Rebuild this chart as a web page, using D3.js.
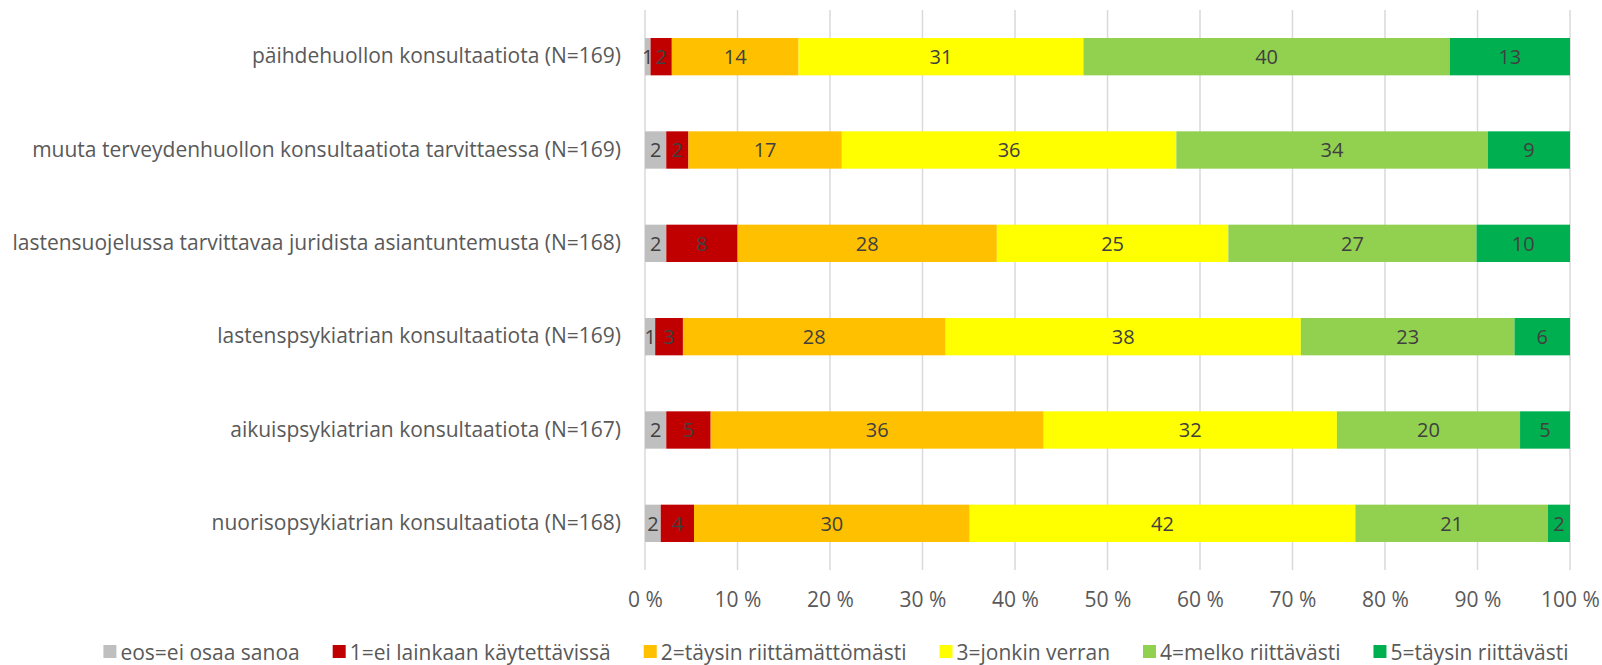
<!DOCTYPE html>
<html>
<head>
<meta charset="utf-8">
<script src="https://cdn.jsdelivr.net/npm/d3@7"></script>
<style>
  body { margin: 0; background: #fff; }
  text { font-family: "Open Sans", sans-serif; }
</style>
</head>
<body>
<div id="chart"></div>
<script>
// categories, top to bottom
var categories = [
    "päihdehuollon konsultaatiota (N=169)",
    "muuta terveydenhuollon konsultaatiota tarvittaessa (N=169)",
    "lastensuojelussa tarvittavaa juridista asiantuntemusta (N=168)",
    "lastenspsykiatrian konsultaatiota (N=169)",
    "aikuispsykiatrian konsultaatiota (N=167)",
    "nuorisopsykiatrian konsultaatiota (N=168)"
];

// series names (legend) and colours
var seriesNames = ["eos=ei osaa sanoa", "1=ei lainkaan käytettävissä", "2=täysin riittämättömästi",
    "3=jonkin verran", "4=melko riittävästi", "5=täysin riittävästi"];
var seriesColors = ["#BFBFBF", "#C00000", "#FFC000", "#FFFF00", "#92D050", "#00B050"];

// percentage values per series (one value per category)
var eos = [0.6, 2.3, 2.3, 1.1, 2.3, 1.7];
var v1 = [2.3, 2.4, 7.7, 3.0, 4.8, 3.6];
var v2 = [13.7, 16.6, 28.0, 28.4, 36.0, 29.8];
var v3 = [30.8, 36.2, 25.0, 38.4, 31.7, 41.7];
var v4 = [39.6, 33.7, 26.8, 23.1, 19.8, 20.8];
var v5 = [13.0, 8.9, 10.1, 6.0, 5.4, 2.4];

var tickValues = [0, 10, 20, 30, 40, 50, 60, 70, 80, 90, 100];

// set the dimensions and margins
var W = 1602, H = 665;
var margin = { top: 10, right: 32, bottom: 95, left: 645 },
    width = W - margin.left - margin.right,
    height = H - margin.top - margin.bottom;
var fontSize = "21px";

var svg = d3.select("#chart")
    .append("svg")
    .attr("width", W)
    .attr("height", H);

var g = svg.append("g")
    .attr("transform", "translate(" + margin.left + "," + margin.top + ")");

// build rows for stacking
var seriesValues = [eos, v1, v2, v3, v4, v5];
var rows = categories.map(function (c, i) {
    var r = { cat: c };
    seriesNames.forEach(function (s, j) { r[s] = seriesValues[j][i]; });
    return r;
});
var stacked = d3.stack().keys(seriesNames).offset(d3.stackOffsetExpand)(rows);

var x = d3.scaleLinear().domain([0, 1]).range([0, width]);
var y = d3.scaleBand().domain(categories).range([0, height])
    .paddingInner(0.6).paddingOuter(0.3);

// gridlines
g.selectAll(".grid")
    .data(tickValues)
    .enter().append("line")
    .attr("x1", function (d) { return x(d / 100); })
    .attr("x2", function (d) { return x(d / 100); })
    .attr("y1", 0)
    .attr("y2", height)
    .attr("stroke", "#d9d9d9")
    .attr("stroke-width", 1.5);

// bars
var layer = g.selectAll(".layer")
    .data(stacked)
    .enter().append("g")
    .attr("fill", function (d, i) { return seriesColors[i]; });

layer.selectAll("rect")
    .data(function (d) { return d; })
    .enter().append("rect")
    .attr("x", function (d) { return x(d[0]); })
    .attr("y", function (d) { return y(d.data.cat); })
    .attr("width", function (d) { return x(d[1]) - x(d[0]); })
    .attr("height", y.bandwidth());

// data labels
layer.each(function (s) {
    d3.select(this).selectAll("text")
        .data(s)
        .enter().append("text")
        .attr("x", function (d) { return (x(d[0]) + x(d[1])) / 2; })
        .attr("y", function (d) { return y(d.data.cat) + y.bandwidth() / 2; })
        .attr("dy", "0.36em")
        .attr("text-anchor", "middle")
        .attr("fill", "#404040")
        .style("font-size", "20px")
        .text(function (d) { return Math.round(d.data[s.key]); });
});

// y labels
var yAxis = g.append("g")
    .call(d3.axisLeft(y).tickSize(0).tickPadding(24));
yAxis.select(".domain").remove();
yAxis.selectAll("text")
    .attr("fill", "#595959")
    .style("font-size", fontSize)
    .style("font-family", "'Open Sans', sans-serif");

// x labels
var xAxis = g.append("g")
    .attr("transform", "translate(0," + height + ")")
    .call(d3.axisBottom(x).tickValues(tickValues.map(function (d) { return d / 100; }))
        .tickSize(0).tickPadding(22)
        .tickFormat(function (d) { return Math.round(d * 100) + " %"; }));
xAxis.select(".domain").remove();
xAxis.selectAll("text")
    .attr("fill", "#595959")
    .style("font-size", fontSize)
    .style("font-family", "'Open Sans', sans-serif");

// legend
var legend = svg.append("g");
var lx = 0, gap = 33;
seriesNames.forEach(function (s, i) {
    var item = legend.append("g").attr("transform", "translate(" + lx + ",0)");
    item.append("rect")
        .attr("x", 0).attr("y", -7)
        .attr("width", 13).attr("height", 13)
        .attr("fill", seriesColors[i]);
    var t = item.append("text")
        .attr("x", 17)
        .attr("dy", "0.36em")
        .attr("fill", "#595959")
        .style("font-size", fontSize)
        .text(s);
    lx += 17 + t.node().getComputedTextLength() + gap;
});
lx -= gap;
legend.attr("transform", "translate(" + (836 - lx / 2) + ",652)");
</script>
</body>
</html>
